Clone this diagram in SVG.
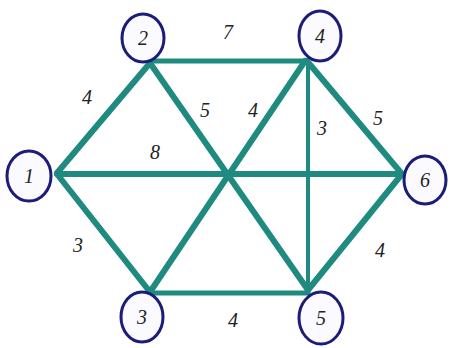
<svg xmlns="http://www.w3.org/2000/svg" width="451" height="348" viewBox="0 0 451 348">
<style>
.e{stroke:#1f8a80;stroke-width:6;stroke-linecap:round;fill:none}
.n{fill:#fbfbff;stroke:#1c1c7a;stroke-width:3}
.t{font-family:"Liberation Serif",serif;font-style:italic;font-size:20px;fill:#222;text-anchor:middle;dominant-baseline:central}
</style>
<rect width="451" height="348" fill="#ffffff"/>
<g id="connectors">
<line class="e" x1="150" y1="61" x2="305" y2="61" style="stroke-width:5"/>
<line class="e" x1="57" y1="173" x2="150" y2="63"/>
<line class="e" x1="150" y1="63" x2="308" y2="290"/>
<line class="e" x1="57" y1="174" x2="402" y2="174"/>
<line class="e" x1="305" y1="61" x2="150" y2="292"/>
<line class="e" x1="308" y1="61" x2="308" y2="290" style="stroke-width:4"/>
<line class="e" x1="307" y1="61" x2="402" y2="174"/>
<line class="e" x1="57" y1="174" x2="150" y2="292"/>
<line class="e" x1="150" y1="293" x2="308" y2="293" style="stroke-width:5"/>
<line class="e" x1="308" y1="290" x2="402" y2="174"/>
<text class="t" x="228" y="32">7</text>
<text class="t" x="87" y="97">4</text>
<text class="t" x="205" y="110">5</text>
<text class="t" x="253" y="110">4</text>
<text class="t" x="322" y="128">3</text>
<text class="t" x="378" y="118">5</text>
<text class="t" x="155" y="152">8</text>
<text class="t" x="78" y="245">3</text>
<text class="t" x="380" y="250">4</text>
<text class="t" x="233" y="320">4</text>
</g>
<g id="node1"><ellipse class="n" cx="29" cy="176" rx="22" ry="25"/><text class="t" x="29" y="176">1</text></g>
<g id="node2"><ellipse class="n" cx="143" cy="38" rx="21" ry="24"/><text class="t" x="143" y="38">2</text></g>
<g id="node3"><ellipse class="n" cx="142" cy="317" rx="21" ry="25"/><text class="t" x="142" y="317">3</text></g>
<g id="node4"><ellipse class="n" cx="320" cy="36" rx="21" ry="25"/><text class="t" x="320" y="36">4</text></g>
<g id="node5"><ellipse class="n" cx="321" cy="318" rx="22" ry="26"/><text class="t" x="321" y="318">5</text></g>
<g id="node6"><ellipse class="n" cx="425" cy="180" rx="21" ry="24"/><text class="t" x="425" y="180">6</text></g>
</svg>
